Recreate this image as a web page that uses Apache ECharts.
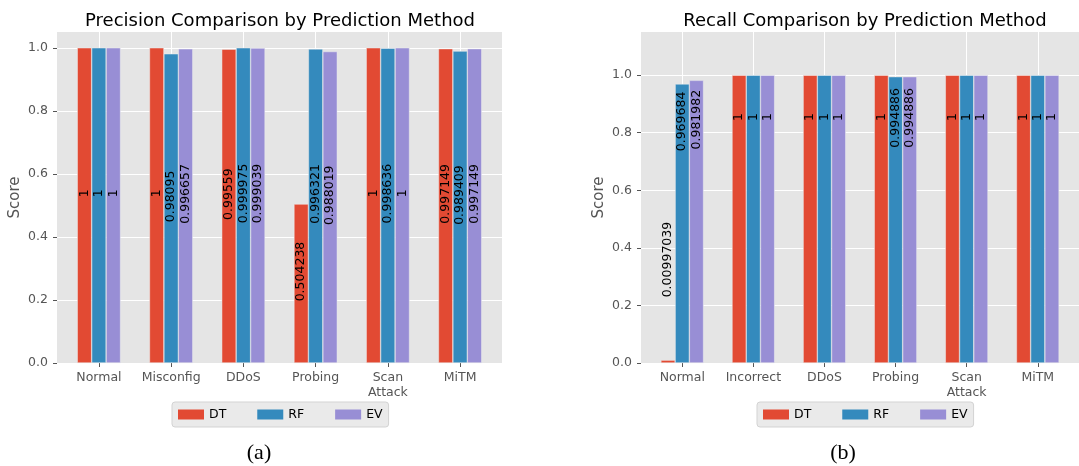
<!DOCTYPE html>
<html>
<head>
<meta charset="utf-8">
<script src="https://cdn.jsdelivr.net/npm/echarts@6/dist/echarts.min.js"></script>
<style>
html,body{margin:0;padding:0;background:#fff;}
#chart{width:1079px;height:466px;}
</style>
</head>
<body>
<div id="chart"></div>
<script>
// ---- data ----
const categoriesA = ['Normal', 'Misconfig', 'DDoS', 'Probing', 'Scan\nAttack', 'MiTM'];
const categoriesB = ['Normal', 'Incorrect', 'DDoS', 'Probing', 'Scan\nAttack', 'MiTM'];
const methods = ['DT', 'RF', 'EV'];
const precisionDT = [1, 1, 0.99559, 0.504238, 1, 0.997149];
const precisionRF = [1, 0.98095, 0.999975, 0.996321, 0.998636, 0.989409];
const precisionEV = [1, 0.996657, 0.999039, 0.988019, 1, 0.997149];
const recallDT = [0.00997039, 1, 1, 1, 1, 1];
const recallRF = [0.969684, 1, 1, 0.994886, 1, 1];
const recallEV = [0.981982, 1, 1, 0.994886, 1, 1];
const yTicks = [0, 0.2, 0.4, 0.6, 0.8, 1.0];
const xTicks = [0, 1, 2, 3, 4, 5];

const colors = {DT: '#E24A33', RF: '#348ABD', EV: '#988ED5'};
const FONT = 'DejaVu Sans';

function mkX(idx, cats) {
  return {
    type: 'value', gridIndex: idx, min: -0.58, max: 5.58, position: 'bottom',
    axisLine: {show: false, onZero: false},
    axisTick: {show: true, length: 4, lineStyle: {color: '#555555', width: 1}, customValues: xTicks},
    axisLabel: {customValues: xTicks, color: '#555555', fontSize: 12.5, fontFamily: FONT, margin: 7, lineHeight: 15,
      formatter: v => cats[Math.round(v)] || ''},
    splitLine: {show: true, lineStyle: {color: '#ffffff', width: 1}}
  };
}
function mkY(idx, max) {
  return {
    type: 'value', gridIndex: idx, min: 0, max: max, interval: 0.2, position: 'left',
    name: 'Score', nameLocation: 'middle', nameGap: 34,
    nameTextStyle: {color: '#555555', fontSize: 15, fontFamily: FONT},
    axisLine: {show: false, onZero: false},
    axisTick: {show: true, length: 4, lineStyle: {color: '#555555', width: 1}, customValues: yTicks},
    axisLabel: {customValues: yTicks, color: '#555555', fontSize: 12.5, fontFamily: FONT, margin: 9,
      formatter: v => v.toFixed(1)},
    splitLine: {show: true, lineStyle: {color: '#ffffff', width: 1}}
  };
}
function mkSeries(name, vals, idx, shift) {
  return {
    name: name, type: 'bar', xAxisIndex: idx, yAxisIndex: idx,
    data: vals.map((v, i) => [i, v]),
    barCategoryGap: '40%', barGap: '0%',
    itemStyle: {color: colors[name], borderColor: '#eeeeee', borderWidth: 0.5},
    label: {show: true, position: 'inside', rotate: 90, offset: [shift, 0],
      color: '#000000', fontSize: 12.5, fontFamily: FONT,
      formatter: p => String(p.value[1])}
  };
}
function mkLegend(left) {
  return {
    data: methods, left: left, top: 402, orient: 'horizontal',
    icon: 'rect', itemWidth: 26, itemHeight: 10, itemGap: 31,
    backgroundColor: '#eaeaea', borderColor: '#d3d3d3', borderWidth: 1, borderRadius: 3,
    padding: [6, 6], selectedMode: false,
    itemStyle: {borderWidth: 0},
    textStyle: {color: '#000000', fontSize: 12.5, fontFamily: FONT}
  };
}

const chart = echarts.init(document.getElementById('chart'), null, {renderer: 'canvas'});
chart.setOption({
  animation: false,
  backgroundColor: '#ffffff',
  textStyle: {fontFamily: FONT},
  title: [
    {text: 'Precision Comparison by Prediction Method', left: 275, top: 7, textAlign: 'center',
      textStyle: {fontFamily: FONT, fontSize: 18, fontWeight: 'normal', color: '#000000'}},
    {text: 'Recall Comparison by Prediction Method', left: 860, top: 7, textAlign: 'center',
      textStyle: {fontFamily: FONT, fontSize: 18, fontWeight: 'normal', color: '#000000'}},
    {text: '(a)', left: 254, top: 437, textAlign: 'center',
      textStyle: {fontFamily: 'Liberation Serif', fontSize: 22, fontWeight: 'normal', color: '#000000'}},
    {text: '(b)', left: 838, top: 437, textAlign: 'center',
      textStyle: {fontFamily: 'Liberation Serif', fontSize: 22, fontWeight: 'normal', color: '#000000'}}
  ],
  legend: [mkLegend(172), mkLegend(757)],
  grid: [
    {left: 57, top: 32, width: 445, height: 331, show: true, backgroundColor: '#E5E5E5', borderWidth: 0},
    {left: 641, top: 32, width: 446, height: 331, show: true, backgroundColor: '#E5E5E5', borderWidth: 0}
  ],
  xAxis: [mkX(0, categoriesA), mkX(1, categoriesB)],
  yAxis: [mkY(0, 1.05), mkY(1, 1.15)],
  series: [
    mkSeries('DT', precisionDT, 0, 12),
    mkSeries('RF', precisionRF, 0, 12),
    mkSeries('EV', precisionEV, 0, 12),
    mkSeries('DT', recallDT, 1, 102),
    mkSeries('RF', recallRF, 1, 102),
    mkSeries('EV', recallEV, 1, 102)
  ]
});
</script>
</body>
</html>
